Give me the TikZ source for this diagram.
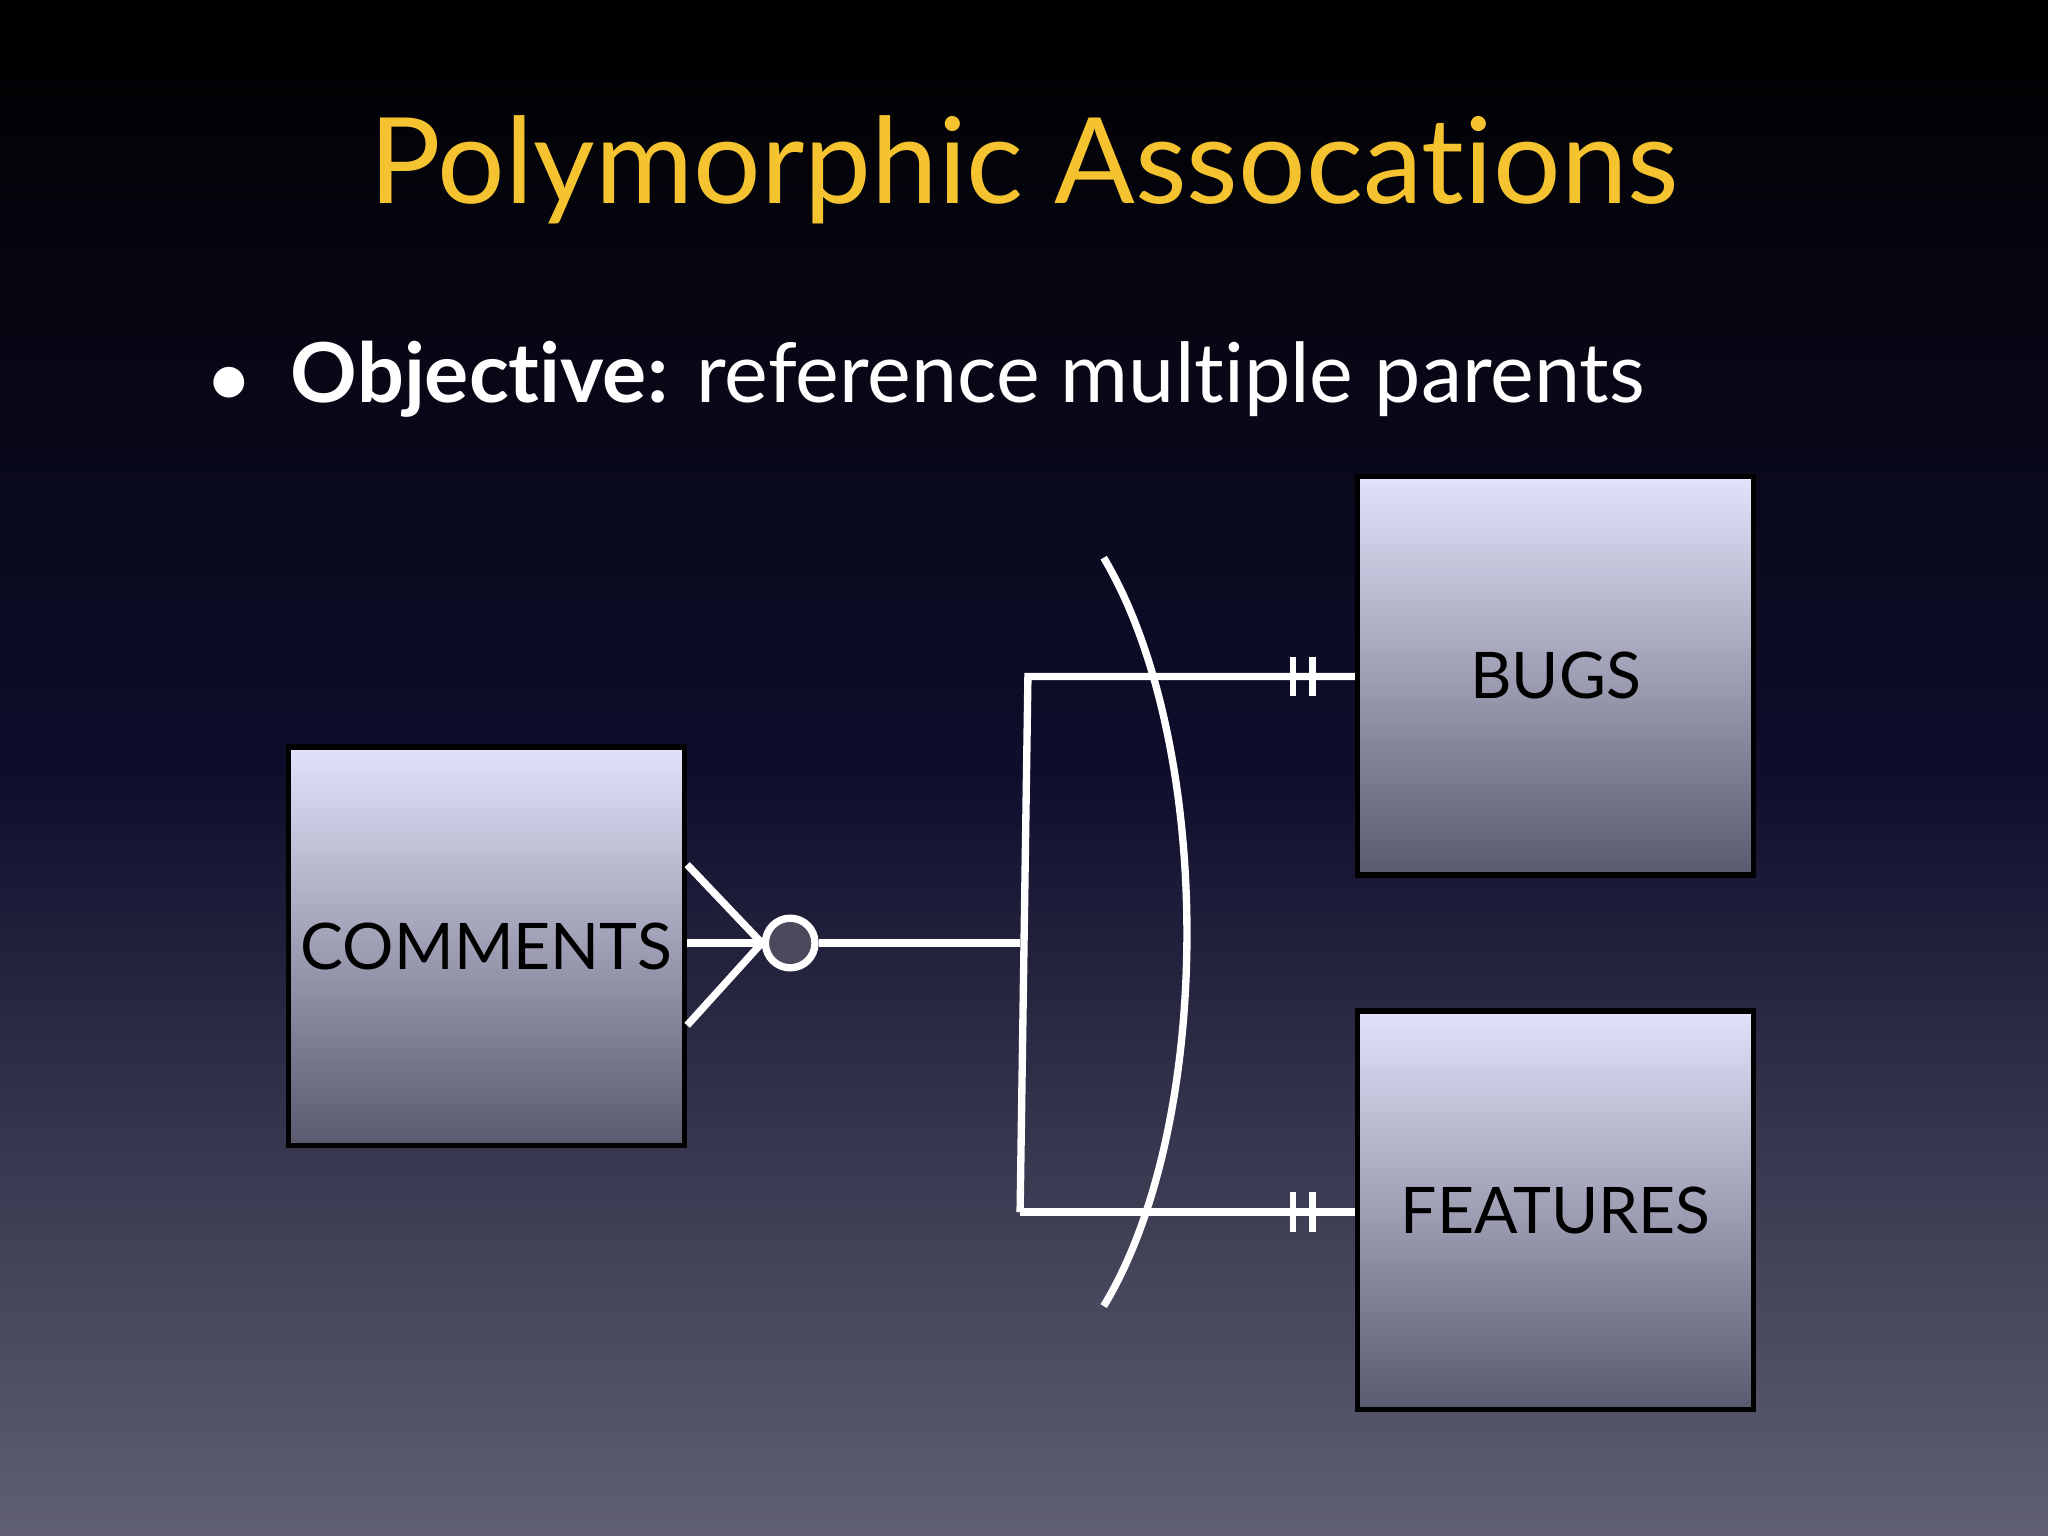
\documentclass[tikz,border=0pt]{standalone}
\usepackage{fontspec}
\setmainfont{Lato}[Ligatures=NoCommon]
\usetikzlibrary{positioning}
\definecolor{titlegold}{HTML}{F5C330}
\definecolor{boxtop}{HTML}{E2E2FA}
\definecolor{boxbot}{HTML}{5A5A6E}
\begin{document}
\begin{tikzpicture}[
    entity/.style={draw=black,line width=1.2pt,top color=boxtop,bottom color=boxbot,
      minimum width=3.03cm,minimum height=3.05cm,inner sep=0pt,font=\fontsize{14}{17}\selectfont},
    link/.style={draw=white,line width=1.6pt},
    tick/.style={draw=white,line width=1.4pt}
    ]

    \shade[top color=black,bottom color={rgb,255:red,96;green,96;blue,114},middle color={rgb,255:red,14;green,14;blue,44}]
      (0,0) rectangle (15.68,-11.76);
    \useasboundingbox (0,0) rectangle (15.68,-11.76);

    \node (title) at (7.84,-1.3) [text=titlegold,font=\fontsize{26}{31}\selectfont] {Polymorphic Assocations};
    \node (bullet) at (7.1,-2.9) [text=white,font=\fontsize{18}{22}\selectfont]
      {$\bullet$\enspace\textbf{Objective:} reference multiple parents};

    \node (comments) at (3.725,-7.245) [entity] {COMMENTS};
    \node (bugs) at (11.91,-5.175) [entity] {BUGS};
    \node (features) at (11.91,-9.265) [entity] {FEATURES};

    \node (opt) at (6.05,-7.22) [circle,draw=white,line width=1.6pt,fill={rgb,255:red,74;green,74;blue,92},
      minimum size=0.38cm,inner sep=0pt] {};
    \coordinate (split) at (7.81,-7.22);
    \coordinate (up) at (7.87,-5.18);
    \coordinate (down) at (7.81,-9.28);

    \draw [link] (comments.east |- 0,-6.62) -- (opt.west);
    \draw [link] (comments.east |- opt) -- (opt.west);
    \draw [link] (comments.east |- 0,-7.85) -- (opt.west);
    \draw [link] (opt) -- (split);
    \draw [link] (down) -- (up) -- (bugs.west |- up);
    \draw [link] (down) -- (features.west |- down);
    \foreach \x in {9.9,10.05} {
      \draw [tick] (\x,-5.03) -- (\x,-5.33);
      \draw [tick] (\x,-9.13) -- (\x,-9.43);
    }
    \draw [link] (8.45,-4.27) .. controls (9.3,-5.7) and (9.3,-8.6) .. (8.45,-10.0);

  \end{tikzpicture}
\end{document}
